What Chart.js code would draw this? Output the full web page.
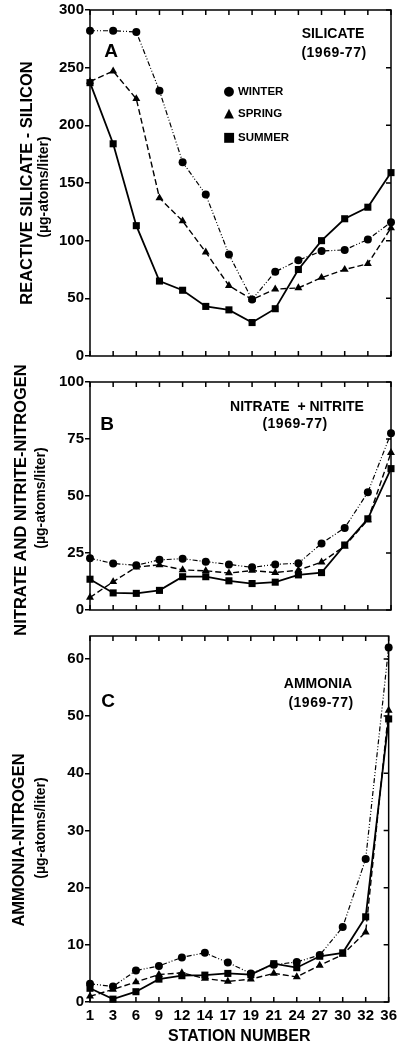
<!DOCTYPE html>
<html>
<head>
<meta charset="utf-8">
<script src="https://cdn.jsdelivr.net/npm/chart.js@4.4.1/dist/chart.umd.min.js"></script>
<style>
  html, body { margin: 0; padding: 0; background: #fff; }
  #wrap { position: relative; width: 402px; height: 1046px; overflow: hidden; background: #fff;
          font-family: "Liberation Sans", Arial, sans-serif; font-weight: bold; color: #000; }
  canvas { position: absolute; left: 0; }
  .t { position: absolute; white-space: nowrap; transform: translate(-50%, -50%); line-height: 1; }
  .r { position: absolute; white-space: nowrap; transform: translate(-50%, -50%) rotate(-90deg); line-height: 1; }
  .lg { position: absolute; white-space: nowrap; font-size: 11.5px; line-height: 1; transform: translateY(-50%); }
  .sym { font-family: "DejaVu Sans", sans-serif; display: inline-block; width: 12px; text-align: center; margin-right: 3px; }
</style>
</head>
<body>
<div id="wrap">
  <canvas id="cA" width="402" height="366" style="top:0px"></canvas>
  <canvas id="cB" width="402" height="248" style="top:372px"></canvas>
  <canvas id="cC" width="402" height="420" style="top:626px"></canvas>

  <!-- y-axis titles -->
  <div class="r" style="left:26px; top:183px; font-size:16.5px;">REACTIVE SILICATE - SILICON</div>
  <div class="r" style="left:43px; top:187px; font-size:14px;">(µg-atoms/liter)</div>
  <div class="r" style="left:20px; top:500px; font-size:16.5px;">NITRATE AND NITRITE-NITROGEN</div>
  <div class="r" style="left:40px; top:498px; font-size:14px;">(µg-atoms/liter)</div>
  <div class="r" style="left:18px; top:840px; font-size:16.5px;">AMMONIA-NITROGEN</div>
  <div class="r" style="left:40px; top:828px; font-size:14px;">(µg-atoms/liter)</div>

  <!-- panel A annotations -->
  <div class="t" style="left:111px; top:50px; font-size:19px;">A</div>
  <div class="t" style="left:333px; top:33px; font-size:14px;">SILICATE</div>
  <div class="t" style="left:334px; top:52px; font-size:14px; letter-spacing:0.5px;">(1969-77)</div>
  <div class="lg" style="left:223px; top:91px;"><span class="sym" style="font-size:13px;">●</span>WINTER</div>
  <div class="lg" style="left:223px; top:113px;"><span class="sym" style="font-size:13px;">▲</span>SPRING</div>
  <div class="lg" style="left:223px; top:137px;"><span class="sym" style="font-size:13px;">■</span>SUMMER</div>

  <!-- panel B annotations -->
  <div class="t" style="left:107px; top:423px; font-size:19px;">B</div>
  <div class="t" style="left:297px; top:406px; font-size:14px;">NITRATE &nbsp;+ NITRITE</div>
  <div class="t" style="left:295px; top:423px; font-size:14px; letter-spacing:0.5px;">(1969-77)</div>

  <!-- panel C annotations -->
  <div class="t" style="left:108px; top:700px; font-size:19px;">C</div>
  <div class="t" style="left:318px; top:683px; font-size:14px;">AMMONIA</div>
  <div class="t" style="left:321px; top:702px; font-size:14px; letter-spacing:0.5px;">(1969-77)</div>
</div>

<script>
// ---- data ----
const stations = ['1','3','6','9','12','14','17','19','21','24','27','30','32','36'];

const silicateWinter = [282, 282, 281, 230, 168, 140, 88, 49, 73, 83, 91, 92, 101, 116];
const silicateSpring = [238, 247, 223, 137, 117, 90, 61, 49, 58, 59, 68, 75, 80, 111];
const silicateSummer = [237, 184, 113, 65, 57, 43, 40, 29, 41, 75, 100, 119, 129, 159];

const nitrateWinter = [22.7, 20.4, 19.6, 22.0, 22.5, 21.2, 20.0, 18.7, 20.0, 20.5, 29.2, 36.0, 51.6, 77.5];
const nitrateSpring = [5.5, 12.4, 18.8, 19.8, 17.6, 17.2, 16.2, 17.3, 16.4, 17.5, 21.0, 28.0, 39.5, 69.0];
const nitrateSummer = [13.5, 7.5, 7.3, 8.6, 14.6, 14.6, 12.8, 11.6, 12.2, 15.4, 16.4, 28.5, 40.0, 62.0];

const ammoniaWinter = [3.2, 2.7, 5.5, 6.3, 7.8, 8.6, 6.9, 5.0, 6.5, 7.0, 8.2, 13.1, 25.0, 62.0];
const ammoniaSpring = [1.0, 2.2, 3.5, 4.8, 5.1, 4.1, 3.6, 4.0, 5.0, 4.4, 6.4, 8.3, 12.2, 51.0];
const ammoniaSummer = [2.4, 0.5, 1.8, 4.0, 4.6, 4.7, 5.0, 4.8, 6.7, 6.0, 8.0, 8.6, 14.9, 49.5];

const silicateTicks = [0, 50, 100, 150, 200, 250, 300];
const nitrateTicks = [0, 25, 50, 75, 100];
const ammoniaTicks = [0, 10, 20, 30, 40, 50, 60];
const silicateMax = 300;
const nitrateMax = 100;
const ammoniaMax = 64;

const seasonLabels = ['WINTER', 'SPRING', 'SUMMER'];

// ---- styling ----
const FONT = '"Liberation Sans", Arial, sans-serif';
const styles = [
  { borderWidth: 1.2, borderDash: [5, 2, 1, 2, 1, 2], pointStyle: 'circle', pointRadius: 4 },
  { borderWidth: 1.4, borderDash: [6, 3], pointStyle: 'triangle', pointRadius: 4.6 },
  { borderWidth: 1.8, borderDash: [], pointStyle: 'rect', pointRadius: 5 }
];

function makeSets(arrs) {
  return arrs.map((d, i) => Object.assign({
    label: seasonLabels[i],
    data: d,
    borderColor: '#000',
    backgroundColor: '#000',
    pointBackgroundColor: '#000',
    pointBorderColor: '#000',
    pointBorderWidth: 0,
    tension: 0,
    clip: false,
    fill: false
  }, styles[i]));
}

const framePlugin = {
  id: 'frame',
  beforeDatasetsDraw(chart) {
    const { ctx, chartArea: { left, right, top, bottom }, scales: { x, y } } = chart;
    const L = 5;
    ctx.save();
    ctx.strokeStyle = '#000';
    ctx.lineWidth = 1.5;
    ctx.strokeRect(left, top, right - left, bottom - top);
    ctx.beginPath();
    chart.data.labels.forEach((_, i) => {
      const px = x.getPixelForValue(i);
      ctx.moveTo(px, top); ctx.lineTo(px, top + L);
      ctx.moveTo(px, bottom); ctx.lineTo(px, bottom - L);
    });
    y.ticks.forEach(t => {
      const py = y.getPixelForValue(t.value);
      ctx.moveTo(right, py); ctx.lineTo(right - L, py);
    });
    ctx.stroke();
    ctx.restore();
  }
};

function makeChart(id, arrs, yTicks, yMax, showX) {
  return new Chart(document.getElementById(id), {
    type: 'line',
    data: { labels: stations, datasets: makeSets(arrs) },
    plugins: [framePlugin],
    options: {
      responsive: false,
      animation: false,
      devicePixelRatio: 1,
      layout: { padding: { top: 10, right: 11, left: 0, bottom: showX ? 0 : 10 } },
      plugins: { legend: { display: false }, tooltip: { enabled: false } },
      scales: {
        x: {
          type: 'category',
          display: showX,
          offset: false,
          grid: { display: false, drawTicks: false },
          border: { display: false },
          ticks: { color: '#000', font: { family: FONT, size: 15, weight: 'bold' }, padding: 5,
                   maxRotation: 0, autoSkip: false },
          title: { display: showX, text: 'STATION NUMBER', color: '#000',
                   font: { family: FONT, size: 16, weight: 'bold' }, padding: { top: 0, bottom: 0 } },
          afterFit: s => { s.height = showX ? 44 : 0; }
        },
        y: {
          min: 0,
          max: yMax,
          afterBuildTicks: s => { s.ticks = yTicks.map(v => ({ value: v })); },
          grid: { drawOnChartArea: false, drawTicks: true, tickLength: 5, color: '#000', lineWidth: 1.5 },
          border: { display: false },
          ticks: { color: '#000', font: { family: FONT, size: 15, weight: 'bold' }, padding: 1 },
          afterFit: s => { s.width = 90; }
        }
      }
    }
  });
}

makeChart('cA', [silicateWinter, silicateSpring, silicateSummer], silicateTicks, silicateMax, false);
makeChart('cB', [nitrateWinter, nitrateSpring, nitrateSummer], nitrateTicks, nitrateMax, false);
makeChart('cC', [ammoniaWinter, ammoniaSpring, ammoniaSummer], ammoniaTicks, ammoniaMax, true);
</script>
</body>
</html>
